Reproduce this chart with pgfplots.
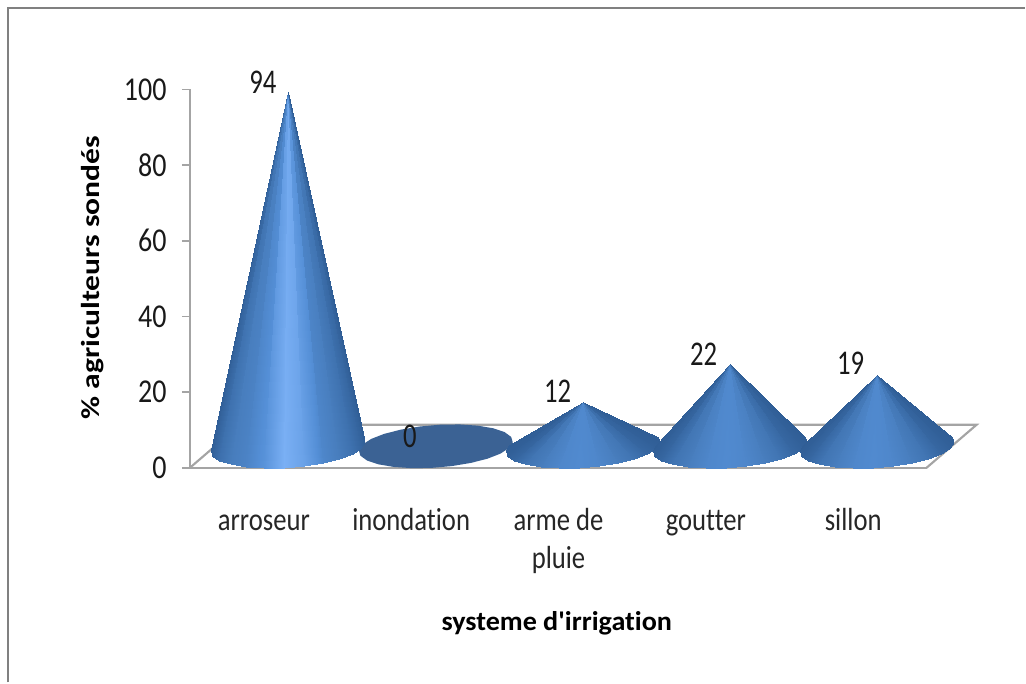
\documentclass[border=0pt]{standalone}
\usepackage{fontspec}
\setmainfont{Carlito}[Ligatures={NoCommon,TeXOff}]
\usepackage{graphicx}
\usepackage{pgfplots}
\usepackage{pgfplotstable}
\pgfplotsset{compat=1.18}
\definecolor{axgray}{HTML}{A4A4A4}
\definecolor{framegray}{HTML}{808080}
\definecolor{disc}{HTML}{3B6294}
\newcommand{\tl}[1]{\scalebox{1}[1.2]{\vphantom{Adlpg}#1}}
\newcommand{\yl}[1]{\scalebox{1.05}[1.25]{#1}}
% cone outline: triangles apex / base point / next base point
% a = 1 on an apex row (its height is the cone's own), ms, mt = shade on short and tall cones
\pgfplotstableread{
dx y a ms mt
0 0 1 0 0
-73.3 6.13 0 0 0
-77 4.62 0 0 0
0 0 1 .01 .02
-77 4.62 0 0 0
-75.4 3.19 0 .02 .04
0 0 1 .06 .12
-75.4 3.19 0 .02 .04
-68.7 1.91 0 .1 .2
0 0 1 .175 .275
-68.7 1.91 0 .1 .2
-57.3 .91 0 .25 .35
0 0 1 .305 .385
-57.3 .91 0 .25 .35
-42 .22 0 .36 .42
0 0 1 .41 .51
-42 .22 0 .36 .42
-23.8 -.10 0 .46 .6
0 0 1 .48 .8
-23.8 -.10 0 .46 .6
-4 -.02 0 .5 1
0 0 1 .48 .9
-4 -.02 0 .5 1
16.1 .45 0 .46 .8
0 0 1 .41 .63
16.1 .45 0 .46 .8
35 1.28 0 .36 .46
0 0 1 .305 .4
35 1.28 0 .36 .46
51.6 2.39 0 .25 .35
0 0 1 .175 .275
51.6 2.39 0 .25 .35
64.7 3.74 0 .1 .2
0 0 1 .065 .14
64.7 3.74 0 .1 .2
73.3 5.23 0 .03 .08
0 0 1 .015 .04
73.3 5.23 0 .03 .08
77 6.74 0 0 0
0 0 1 0 0
77 6.74 0 0 0
75.4 8.17 0 0 0
}\conetable
\begin{document}
\begin{tikzpicture}
\begin{axis}[
  scale only axis, width=552.75pt, height=283.875pt,
  xmin=-98, xmax=639, ymin=0, ymax=100,
  clip=false,
  axis lines=left, axis line style={-,axgray,line width=1.6pt},
  xtick={-24,123.4,270.8,418.2,565.6},
  xticklabels={\tl{arroseur},\tl{inondation},{\tl{arme de}\\\tl{pluie}},\tl{goutter},\tl{sillon}},
  xticklabel style={align=center,font=\fontsize{20}{28.5}\selectfont,text=black!85,anchor=north,yshift=-21pt},
  x tick style={draw=none}, major tick length=6pt,
  ytick={0,20,40,60,80,100},
  yticklabels={\yl{0},\yl{20},\yl{40},\yl{60},\yl{80},\yl{100}},
  tick align=outside,
  y tick style={axgray,line width=1.3pt},
  yticklabel style={font=\fontsize{20}{24}\selectfont,text=black!90,xshift=-8pt},
  /pgf/number format/assume math mode=true,
  xlabel={\scalebox{1.14}[1.1]{\bfseries systeme d'irrigation}},
  xlabel style={at={(0.498,-0.41)},anchor=center,font=\fontsize{18.5}{22}\selectfont},
  ylabel={\scalebox{1.28}[1.05]{\bfseries \% agriculteurs sondés}},
  ylabel style={at={(-0.132,0.503)},anchor=center,rotate=0,font=\fontsize{18.5}{22}\selectfont},
  colormap={cone}{rgb(0pt)=(.19,.37,.59); rgb(20pt)=(.24,.44,.68); rgb(35pt)=(.28,.49,.74); rgb(55pt)=(.33,.56,.84); rgb(100pt)=(.48,.69,.96)},
  point meta min=0, point meta max=1,
]
% page and frame
\path (axis cs:-288,-56.8) rectangle (axis cs:738,123.65);
\draw[framegray,line width=1.5pt] (axis cs:-280,-56.7) -- (axis cs:-280,121.5) -- (axis cs:737.5,121.5);
% floor
\addplot[axgray,line width=1.6pt] coordinates {(-98,0) (-48,11.36) (689,11.36) (639,0)};
% inondation (0): flat disc
\addplot[draw=none,fill=disc] coordinates {(225,6.74) (223.4,8.17) (216.7,9.45) (205.3,10.45) (190,11.14) (171.8,11.46) (152,11.38) (131.9,10.91) (113,10.08) (96.4,8.97) (83.3,7.62) (74.7,6.13) (71,4.62) (72.6,3.19) (79.3,1.91) (90.7,.91) (106,.22) (124.2,-.10) (144,-.02) (164.1,.45) (183,1.28) (199.6,2.39) (212.7,3.74) (221.3,5.23)} -- cycle;
% arroseur (94)
\addplot[patch,patch type=triangle,shader=interp,point meta=explicit] table[x expr=\thisrow{dx}, y expr=\thisrow{y}+\thisrow{a}*99.2, meta=mt] {\conetable};
% arme de pluie (12)
\addplot[patch,patch type=triangle,shader=interp,point meta=explicit] table[x expr=\thisrow{dx}+295, y expr=\thisrow{y}+\thisrow{a}*17.4, meta=ms] {\conetable};
% goutter (22)
\addplot[patch,patch type=triangle,shader=interp,point meta=explicit] table[x expr=\thisrow{dx}+442, y expr=\thisrow{y}+\thisrow{a}*27.5, meta=ms] {\conetable};
% sillon (19)
\addplot[patch,patch type=triangle,shader=interp,point meta=explicit] table[x expr=\thisrow{dx}+589, y expr=\thisrow{y}+\thisrow{a}*24.6, meta=ms] {\conetable};
% value labels
\addplot[draw=none,mark=none,point meta=explicit symbolic,
  nodes near coords={\scalebox{1}[1.3]{\pgfplotspointmeta}},
  nodes near coords style={anchor=center,font=\fontsize{20}{24}\selectfont,text=black!90}]
  coordinates {(-25,102)[94] (122,8.2)[0] (270,20.3)[12] (416,30.1)[22] (563,27.5)[19]};
\end{axis}
\end{tikzpicture}
\end{document}
